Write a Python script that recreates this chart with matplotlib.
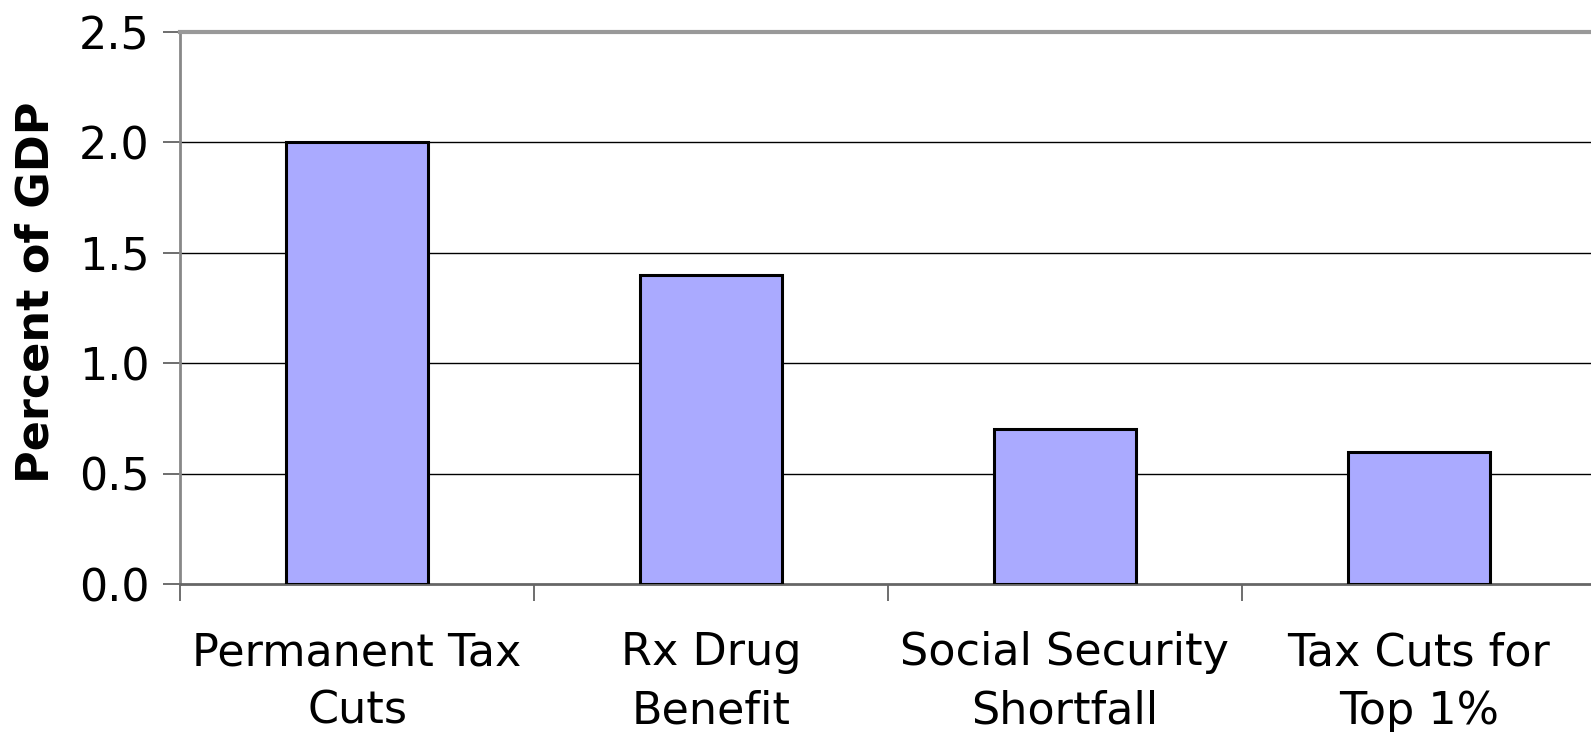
import numpy as np
import matplotlib
matplotlib.use("Agg")
import matplotlib.pyplot as plt

# categories and values (percent of GDP)
categories = ["Permanent Tax\nCuts", "Rx Drug\nBenefit", "Social Security\nShortfall", "Tax Cuts for\nTop 1%"]
values = [2.0, 1.4, 0.7, 0.6]
y_ticks = [0.0, 0.5, 1.0, 1.5, 2.0, 2.5]

fig = plt.figure(figsize=(15.91, 7.32), dpi=100)
ax = fig.add_axes([180 / 1591, 1 - 584 / 732, 1416 / 1591, 552 / 732])

x = np.arange(len(categories))
ax.bar(x, values, width=0.4, color="#aaaaff", edgecolor="black", linewidth=2.2, zorder=3)

ax.set_xlim(-0.5, len(categories) - 0.5)
ax.set_ylim(0, 2.5)
ax.set_yticks(y_ticks)
ax.set_yticklabels([f"{v:.1f}" for v in y_ticks])
for v in y_ticks[1:-1]:
    ax.axhline(v, color="black", linewidth=1.0, zorder=1)

# category ticks sit on the boundaries, labels in the middle
ax.set_xticks(np.arange(len(categories) + 1) - 0.5)
ax.set_xticklabels([])
ax.set_xticks(x, minor=True)
ax.set_xticklabels(categories, minor=True, fontsize=32, linespacing=1.45)
ax.tick_params(axis="x", which="minor", length=0, pad=34)
ax.tick_params(axis="x", which="major", length=12, width=1.2, color="#555555", direction="out")
ax.tick_params(axis="y", length=12, width=1.2, color="#555555", direction="out", labelsize=32, pad=10)

ax.spines["top"].set_color("#999999")
ax.spines["top"].set_linewidth(3)
ax.spines["left"].set_color("#888888")
ax.spines["left"].set_linewidth(2)
ax.spines["bottom"].set_color("#666666")
ax.spines["bottom"].set_linewidth(2)
ax.spines["right"].set_visible(False)

# y label placed in figure coords, a little above the axes centre
fig.text(36 / 1591, 1 - 292 / 732, "Percent of GDP", fontsize=32, fontweight="bold",
         rotation=90, ha="center", va="center")

fig.savefig("out.png", dpi=100)
